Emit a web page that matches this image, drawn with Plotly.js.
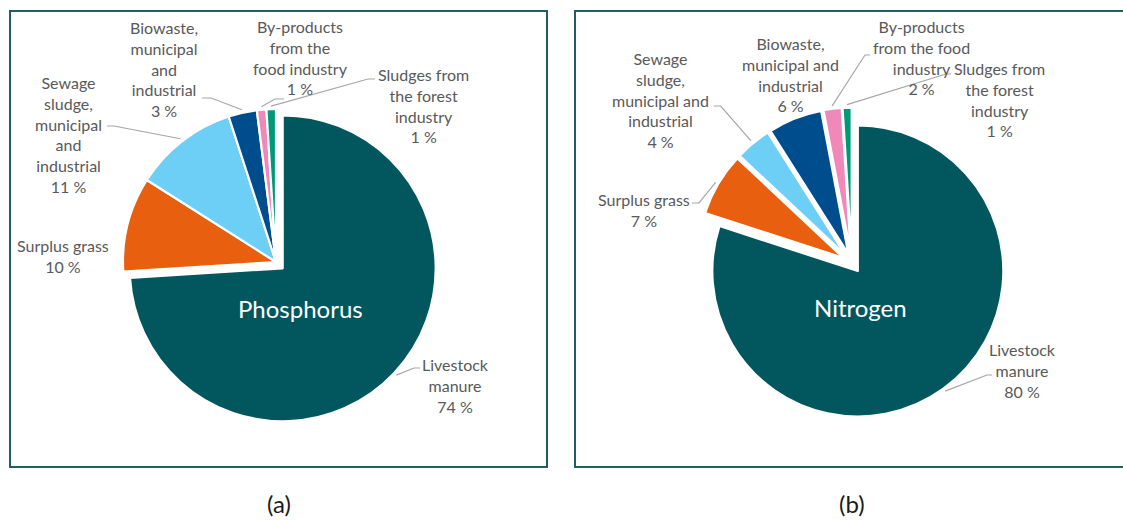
<!DOCTYPE html>
<html><head><meta charset="utf-8">
<script src="https://cdn.plot.ly/plotly-3.0.1.min.js"></script>
<style>html,body{margin:0;padding:0;background:#fff;}#chart{width:1123px;height:520px;}</style>
</head><body><div id="chart"></div>
<script>
// ---- data ----
const categories = ['Livestock manure', 'Surplus grass', 'Sewage sludge, municipal and industrial',
  'Biowaste, municipal and industrial', 'By-products from the food industry', 'Sludges from the forest industry'];
const phosphorusValues = [74, 10, 11, 3, 1, 1];
const nitrogenValues = [80, 7, 4, 6, 2, 1];
const phosphorusLabelLines = ['Livestock<br>manure', 'Surplus grass', 'Sewage<br>sludge,<br>municipal<br>and<br>industrial',
  'Biowaste,<br>municipal<br>and<br>industrial', 'By-products<br>from the<br>food industry', 'Sludges from<br>the forest<br>industry'];
const nitrogenLabelLines = ['Livestock<br>manure', 'Surplus grass', 'Sewage<br>sludge,<br>municipal and<br>industrial',
  'Biowaste,<br>municipal and<br>industrial', 'By-products<br>from the food<br>industry', 'Sludges from<br>the forest<br>industry'];
const chartTitles = ['Phosphorus', 'Nitrogen'];
const panelLetters = ['(a)', '(b)'];
const colors = ['#02575E', '#E8600F', '#6DCFF6', '#004D8E', '#F088B9', '#009977'];

// ---- layout helpers ----
const W = 1123, H = 520;
const px = x => x / W, py = y => 1 - y / H;
const FONT = 'Lato, "Open Sans", sans-serif';

const panels = [
  { values: phosphorusValues, lines: phosphorusLabelLines, title: chartTitles[0], letter: panelLetters[0],
    cx: 276, cy: 262, r: 153, pull: [0.06, 0, 0, 0, 0, 0],
    labelPos: [[455, 385.5], [62.5, 256], [68, 134], [164, 69.5], [300, 57], [423, 106]],
    leaders: [[[420, 368], [414, 368]], null, [[107, 126], [114, 126]], [[202, 98], [211, 98]], [[284, 99], [275, 99]], [[375, 79], [368, 79]]],
    titlePos: [300, 308], letterPos: [278.5, 503], box: [10, 11, 547, 467] },
  { values: nitrogenValues, lines: nitrogenLabelLines, title: chartTitles[1], letter: panelLetters[1],
    cx: 852, cy: 263, r: 145.5, pull: [0.068, 0.068, 0.068, 0.068, 0.068, 0.068],
    labelPos: [[1022.5, 370.5], [644, 209.5], [660, 100.5], [790, 74.5], [921, 57], [999, 100]],
    leaders: [[[992, 375], [987, 375]], [[692, 203], [699, 203]], [[713.6, 106], [720.7, 106]], null, [[870, 55], [865, 55]], [[951, 74], [946, 74]]],
    titlePos: [860, 307], letterPos: [852, 503], box: [575, 11, 1140, 467] }
];

const traces = [], annotations = [], shapes = [];
panels.forEach(p => {
  const maxPull = Math.max(...p.pull);
  const half = p.r * (1 + maxPull);
  traces.push({
    type: 'pie', values: p.values, labels: categories, sort: false, direction: 'clockwise', rotation: 0,
    pull: p.pull, textinfo: 'none', hoverinfo: 'label+percent', showlegend: false,
    marker: { colors: colors, line: { color: '#ffffff', width: 2.2 } },
    domain: { x: [px(p.cx - half), px(p.cx + half)], y: [py(p.cy + half), py(p.cy - half)] }
  });
  shapes.push({ type: 'rect', xref: 'paper', yref: 'paper', x0: px(p.box[0]), x1: px(p.box[2]), y0: py(p.box[3]), y1: py(p.box[1]),
    line: { color: '#1F5F63', width: 2 }, fillcolor: 'rgba(0,0,0,0)' });
  const total = p.values.reduce((a, b) => a + b, 0);
  let cum = 0;
  p.values.forEach((v, i) => {
    const mid = (cum + v / 2) / total; cum += v;
    const th = mid * 2 * Math.PI;
    const dx = Math.sin(th), dy = -Math.cos(th);
    const sx = p.cx + p.pull[i] * p.r * dx, sy = p.cy + p.pull[i] * p.r * dy;
    const tx = sx + (p.r + 3) * dx, ty = sy + (p.r + 3) * dy;
    annotations.push({ xref: 'paper', yref: 'paper', x: px(p.labelPos[i][0]), y: py(p.labelPos[i][1]),
      xanchor: 'center', yanchor: 'middle', showarrow: false, align: 'center',
      text: p.lines[i] + '<br>' + v + ' %', font: { family: FONT, size: 16, color: '#595959' } });
    const L = p.leaders[i];
    if (L) {
      shapes.push({ type: 'path', xref: 'paper', yref: 'paper',
        path: `M${px(L[0][0])},${py(L[0][1])} L${px(L[1][0])},${py(L[1][1])} L${px(tx)},${py(ty)}`,
        line: { color: '#A6A6A6', width: 1.2 } });
    }
  });
  annotations.push({ xref: 'paper', yref: 'paper', x: px(p.titlePos[0]), y: py(p.titlePos[1]), xanchor: 'center', yanchor: 'middle',
    showarrow: false, text: p.title, font: { family: FONT, size: 24, color: '#ffffff' } });
  annotations.push({ xref: 'paper', yref: 'paper', x: px(p.letterPos[0]), y: py(p.letterPos[1]), xanchor: 'center', yanchor: 'middle',
    showarrow: false, text: p.letter, font: { family: FONT, size: 24, color: '#1a1a1a' } });
});

Plotly.newPlot('chart', traces, {
  width: W, height: H, margin: { l: 0, r: 0, t: 0, b: 0 },
  paper_bgcolor: '#ffffff', plot_bgcolor: '#ffffff',
  annotations: annotations, shapes: shapes
}, { displayModeBar: false, staticPlot: true });
</script></body></html>
